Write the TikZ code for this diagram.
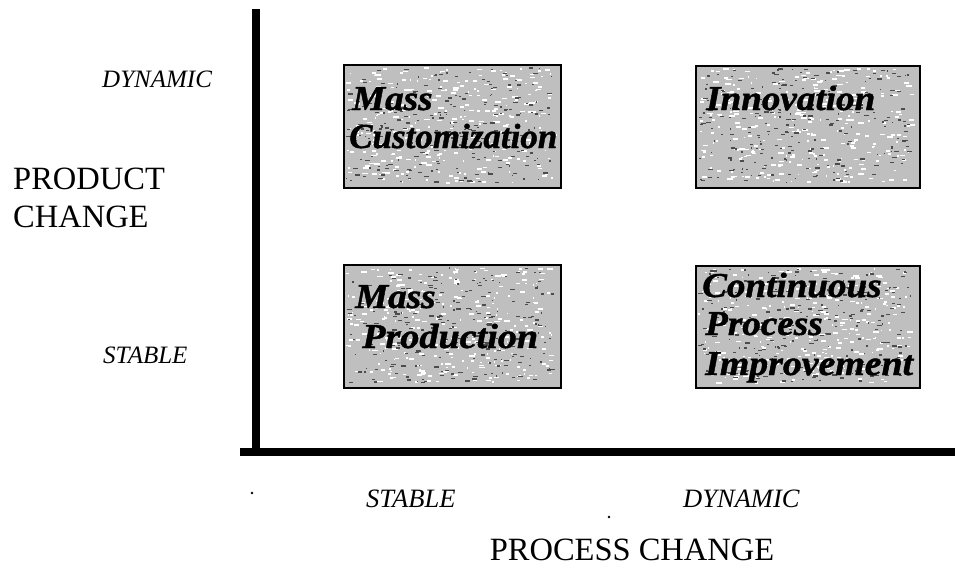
\documentclass[tikz,border=0pt]{standalone}
\usepackage{fontspec}
\usepackage{graphicx}
\setmainfont{Liberation Serif}
\newfontfamily\boxfont{Liberation Serif}[BoldItalicFeatures={FakeBold=1.2}]
\newcommand\mkspeckles[4]{%
  \foreach \i in {1,...,300}{%
    \pgfmathsetmacro\px{#1+3+rnd*(#3-#1-12)}%
    \pgfmathsetmacro\py{#2+3+rnd*(#4-#2-8)}%
    \pgfmathsetmacro\pw{1+rnd*5}%
    \fill[white] (\px,\py) rectangle ++(\pw,1.7);
  }%
  \foreach \i in {1,...,240}{%
    \pgfmathsetmacro\px{#1+3+rnd*(#3-#1-12)}%
    \pgfmathsetmacro\py{#2+3+rnd*(#4-#2-8)}%
    \pgfmathsetmacro\pw{1+rnd*4}%
    \fill[black!70] (\px,\py) rectangle ++(\pw,1.3);
  }%
}
\newcommand\widetxt[1]{\scalebox{1.06}[1]{#1}}
\begin{document}
\begin{tikzpicture}[x=1pt,y=-1pt,
  lab/.style={font=\fontsize{25}{30}\selectfont\itshape, inner sep=0pt, anchor=base west},
  labb/.style={lab, font=\fontsize{26.5}{30}\selectfont\itshape},
  ttl/.style={font=\fontsize{32.5}{39}\selectfont, inner sep=0pt},
  quad/.style={draw=black, line width=2pt, fill=black!25, inner sep=0pt, anchor=north west},
  qtext/.style={font=\boxfont\fontsize{35}{38}\selectfont\bfseries\itshape, inner sep=0pt, anchor=base west},
  axisline/.style={line width=8pt}]
\useasboundingbox (0,0) rectangle (955,578);
\pgfmathsetseed{7}
% axes
\coordinate (ytop) at (256,9);
\coordinate (ybot) at (256,456);
\coordinate (xl) at (240,452);
\coordinate (xr) at (955,452);
\draw[axisline] (ytop) -- (ybot);
\draw[axisline] (xl) -- (xr);
% quadrant boxes
\node[quad, minimum width=217pt, minimum height=123pt] (mc) at (343,64) {};
\node[quad, minimum width=224pt, minimum height=122pt] (in) at (695,65) {};
\node[quad, minimum width=217pt, minimum height=123pt] (mp) at (343,264) {};
\node[quad, minimum width=224pt, minimum height=122pt] (cp) at (695,265) {};
\mkspeckles{343}{64}{560}{187}
\mkspeckles{695}{65}{919}{187}
\mkspeckles{343}{264}{560}{387}
\mkspeckles{695}{265}{919}{387}
% quadrant texts
\node[qtext] (mc1) at (352,110) {\widetxt{Mass}};
\node[qtext] (mc2) at (349,148) {Customization};
\node[qtext] (in1) at (706,110) {\widetxt{Innovation}};
\node[qtext] (mp1) at (355,308) {\widetxt{Mass}};
\node[qtext] (mp2) at (362,348) {\scalebox{1.09}[1]{Production}};
\node[qtext] (cp1) at (702,297) {\widetxt{Continuous}};
\node[qtext] (cp2) at (705,335) {\widetxt{Process}};
\node[qtext] (cp3) at (705,375) {\scalebox{1.08}[1]{Improvement}};
% axis labels
\node[lab] (ydyn) at (102,87) {DYNAMIC};
\node[lab] (ystab) at (103,363) {STABLE};
\node[ttl, anchor=base west] (prod1) at (13,189) {PRODUCT};
\node[ttl, anchor=base west] (prod2) at (13,227) {CHANGE};
\node[labb] (xstab) at (366,507) {STABLE};
\node[labb] (xdyn) at (683,507) {DYNAMIC};
\node[ttl, anchor=base] (proc) at (632,560) {PROCESS CHANGE};
% scan dots
\fill (252,493) circle (1.4pt);
\fill (609,517) circle (1.4pt);
\end{tikzpicture}
\end{document}
